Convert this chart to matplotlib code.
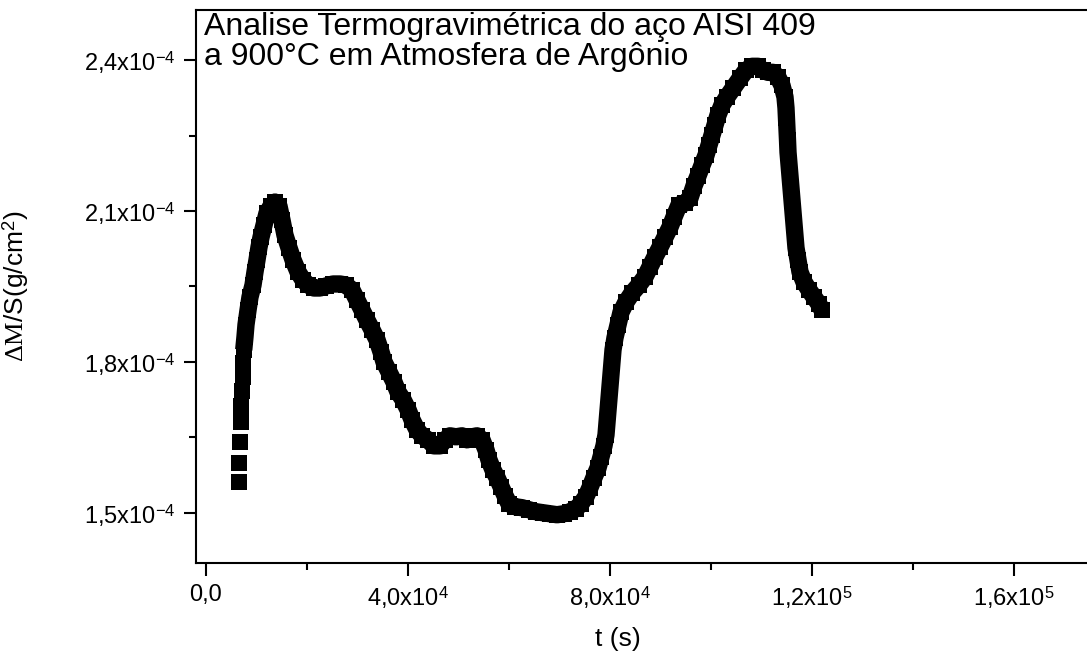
import numpy as np
import matplotlib
matplotlib.use('Agg')
from matplotlib import pyplot as plt
from matplotlib.ticker import FixedLocator, FixedFormatter

plt.rcParams['font.family'] = ['Liberation Sans', 'DejaVu Sans']
plt.rcParams['mathtext.fontset'] = 'custom'
plt.rcParams['mathtext.rm'] = 'Liberation Serif'
plt.rcParams['mathtext.it'] = 'Liberation Serif:italic'

# time (s) and mass gain per area (x1e-4 g/cm2)
t_s = [6530, 6590, 6730, 6870, 6990, 7130, 7270, 7330, 7470, 7720,
       7920, 8320, 8710, 9310, 9700, 10100, 10490, 10890, 11480, 12080,
       12870, 13660, 14450, 15050, 15640, 16430, 17230, 18220, 19210, 20200,
       21380, 22570, 23760, 25150, 26530, 27720, 28910, 29900, 30890, 31880,
       32870, 33860, 34650, 35240, 36230, 37220, 38020, 39010, 40000, 40790,
       41780, 42770, 43960, 45140, 46330, 47320, 48310, 49500, 50690, 51680,
       52670, 53660, 54650, 55440, 56030, 56830, 57620, 58410, 59200, 59990,
       61180, 62570, 63950, 65340, 66730, 68110, 69500, 70880, 72070, 73260,
       74250, 75240, 76030, 76820, 77620, 78210, 78800, 79200, 79400, 79600,
       79790, 79990, 80190, 80390, 80590, 80980, 81580, 82170, 83160, 84350,
       85730, 86920, 87910, 88900, 89890, 90880, 91870, 92660, 93650, 94840,
       95830, 96620, 97420, 98210, 99000, 99590, 100190, 100780, 101380, 102170,
       103160, 104350, 105730, 106920, 108110, 109300, 110290, 111280, 112270, 113260,
       114050, 114640, 114840, 114940, 115040, 115140, 115240, 115430, 115630, 115830,
       116030, 116230, 116420, 116620, 116820, 117220, 117610, 118400, 119390, 120380,
       121370, 121970]
dm_s = [1.562, 1.599, 1.641, 1.681, 1.713, 1.742, 1.770, 1.798, 1.824, 1.850,
        1.874, 1.903, 1.929, 1.953, 1.979, 2.003, 2.028, 2.048, 2.072, 2.096,
        2.110, 2.118, 2.110, 2.082, 2.052, 2.027, 2.003, 1.979, 1.963, 1.953,
        1.947, 1.947, 1.951, 1.955, 1.955, 1.953, 1.943, 1.923, 1.903, 1.883,
        1.864, 1.844, 1.820, 1.800, 1.780, 1.760, 1.740, 1.725, 1.705, 1.685,
        1.665, 1.653, 1.645, 1.633, 1.633, 1.645, 1.653, 1.651, 1.653, 1.645,
        1.651, 1.653, 1.645, 1.625, 1.605, 1.585, 1.570, 1.552, 1.534, 1.518,
        1.512, 1.510, 1.506, 1.502, 1.500, 1.498, 1.496, 1.498, 1.502, 1.508,
        1.518, 1.532, 1.550, 1.570, 1.589, 1.611, 1.633, 1.655, 1.679, 1.703,
        1.726, 1.750, 1.774, 1.798, 1.824, 1.848, 1.874, 1.899, 1.919, 1.937,
        1.953, 1.969, 1.989, 2.009, 2.028, 2.048, 2.068, 2.088, 2.112, 2.116,
        2.126, 2.150, 2.170, 2.191, 2.211, 2.231, 2.251, 2.271, 2.291, 2.311,
        2.327, 2.344, 2.364, 2.380, 2.388, 2.388, 2.380, 2.376, 2.376, 2.366,
        2.350, 2.327, 2.305, 2.285, 2.263, 2.241, 2.217, 2.193, 2.170, 2.146,
        2.122, 2.098, 2.074, 2.050, 2.027, 2.003, 1.979, 1.959, 1.943, 1.929,
        1.915, 1.903]

x_ticks = [0, 4e4, 8e4, 1.2e5, 1.6e5]
x_minor = [2e4, 6e4, 1e5, 1.4e5]
x_labels = ['0,0', r'4,0x10$^{\mathregular{4}}$', r'8,0x10$^{\mathregular{4}}$',
            r'1,2x10$^{\mathregular{5}}$', r'1,6x10$^{\mathregular{5}}$']
y_ticks = [1.5e-4, 1.8e-4, 2.1e-4, 2.4e-4]
y_minor = [1.65e-4, 1.95e-4, 2.25e-4]
y_labels = [r'1,5x10$^{\mathregular{-4}}$', r'1,8x10$^{\mathregular{-4}}$',
            r'2,1x10$^{\mathregular{-4}}$', r'2,4x10$^{\mathregular{-4}}$']

t = np.array(t_s)
dm = np.array(dm_s) * 1e-4

fig = plt.figure(figsize=(10.87, 6.57), dpi=100)
ax = fig.add_axes([196/1087, 94/657, 891/1087, 553/657])

# sparse first points are separate squares, the rest forms a solid band
ax.plot(t[8:], dm[8:], '-', color='black', linewidth=12.5, solid_capstyle='butt')
ax.plot(t, dm, 's', color='black', markersize=11, markeredgewidth=0)

ax.set_xlim(-1980, 174440)
ax.set_ylim(1.40e-4, 2.50e-4)

ax.xaxis.set_major_locator(FixedLocator(x_ticks))
ax.xaxis.set_major_formatter(FixedFormatter(x_labels))
ax.xaxis.set_minor_locator(FixedLocator(x_minor))
ax.yaxis.set_major_locator(FixedLocator(y_ticks))
ax.yaxis.set_major_formatter(FixedFormatter(y_labels))
ax.yaxis.set_minor_locator(FixedLocator(y_minor))

ax.tick_params(which='major', direction='out', length=9, width=1.5, labelsize=17, pad=6)
ax.tick_params(which='minor', direction='out', length=5, width=1.5)
ax.tick_params(axis='x', which='both', top=False)
ax.tick_params(axis='y', which='both', right=False)

for side in ['left', 'bottom', 'top']:
    ax.spines[side].set_linewidth(1.5)
ax.spines['right'].set_visible(False)

ax.set_xlabel('t (s)', fontsize=19)
ax.xaxis.set_label_coords(0.474, -0.115)
ax.set_ylabel(r'$\mathrm{\Delta M}$/S(g/cm$^{\mathregular{2}}$)', fontsize=19)
ax.yaxis.set_label_coords(-0.185, 0.5)

ax.text(0.009, 0.997, 'Analise Termogravimétrica do aço AISI 409\na 900°C em Atmosfera de Argônio',
        transform=ax.transAxes, ha='left', va='top', fontsize=23, linespacing=1.0)

fig.savefig('out.png', dpi=100)
